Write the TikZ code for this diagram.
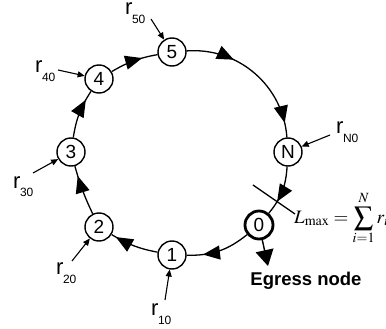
\documentclass[tikz,border=0pt]{standalone}
\usepackage{mathptmx}
\usepackage{fontspec}
\newfontfamily\arialfont{Liberation Sans}
\usetikzlibrary{arrows.meta,decorations.markings}
\newcommand\rlabel[1]{{\fontsize{22}{22}\selectfont r}\kern-0.5pt\raisebox{-9pt}{\fontsize{12}{12}\selectfont #1}}
\tikzset{
  ringnode/.style={circle,draw,line width=1.4pt,minimum size=28pt,inner sep=0pt,
    font=\arialfont\fontsize{19}{19}\selectfont},
  egressnode/.style={ringnode,line width=2.8pt},
  ringedge/.style={line width=1.3pt,postaction={decorate},
    decoration={markings,mark=at position #1 with {\arrow{Triangle[length=17pt,width=14pt]}}}},
  longedge/.style={line width=1.3pt,postaction={decorate},
    decoration={markings,
      mark=at position 0.33 with {\arrow{Triangle[length=17pt,width=14pt]}},
      mark=at position 0.9 with {\arrow{Triangle[length=17pt,width=14pt]}}}},
  rlab/.style={inner sep=0pt,anchor=base west,font=\arialfont},
  rarrow/.style={line width=1.1pt,-{Triangle[length=7pt,width=6pt]}},
  egressarrow/.style={line width=1.4pt,-{Triangle[length=16pt,width=18pt]}},
  cutline/.style={line width=1.3pt}
}
\begin{document}
\begin{tikzpicture}[x=1pt,y=-1pt]
\useasboundingbox (0,0) rectangle (386,329);
% ring nodes
\node[ringnode] (n5) at (172,52) {5};
\node[ringnode] (n4) at (99,79) {4};
\node[ringnode] (n3) at (71,152) {3};
\node[ringnode] (n2) at (99,227) {2};
\node[ringnode] (n1) at (172,255) {1};
\node[egressnode] (n0) at (259,225) {0};
\node[ringnode] (nN) at (288,152) {N};
% ring edges
\draw[longedge] (n5) to[bend left=45] (nN);
\draw[ringedge=0.72] (nN) to[bend left=18] (n0);
\draw[ringedge=0.75] (n0) to[bend left=20] (n1);
\draw[ringedge=0.9] (n1) to[bend left=10] (n2);
\draw[ringedge=0.8] (n2) to[bend left=5] (n3);
\draw[ringedge=0.8] (n3) to[bend left=12] (n4);
\draw[ringedge=0.68] (n4) to[bend left=10] (n5);
% input labels
\node[rlab] (l5) at (125,15) {\rlabel{50}};
\node[rlab] (l4) at (35,73) {\rlabel{40}};
\node[rlab] (l3) at (13,188) {\rlabel{30}};
\node[rlab] (l2) at (56,274) {\rlabel{20}};
\node[rlab] (l1) at (151,315) {\rlabel{10}};
\node[rlab] (lN) at (336,134) {\rlabel{N0}};
\coordinate (a5) at (151,19);
\coordinate (a4) at (58,70);
\coordinate (a3) at (33,173);
\coordinate (a2) at (72,261);
\coordinate (a1) at (165,300);
\coordinate (aN) at (330,135);
\draw[rarrow] (a5) -- (n5);
\draw[rarrow] (a4) -- (n4);
\draw[rarrow] (a3) -- (n3);
\draw[rarrow] (a2) -- (n2);
\draw[rarrow] (a1) -- (n1);
\draw[rarrow] (aN) -- (nN);
% egress
\coordinate (egr) at (268,266);
\draw[egressarrow] (n0) -- (egr);
\node[font=\arialfont\bfseries\fontsize{18.5}{18.5}\selectfont] (eg) at (306,281) {Egress node};
% cut and formula
\coordinate (c1) at (253,185);
\coordinate (c2) at (295,214);
\draw[cutline] (c1) -- (c2);
\node[inner sep=0pt,anchor=base west,font=\fontsize{19}{22}\selectfont] (lmax) at (294,223)
  {$\displaystyle L_{\max} = \sum_{i=1}^{N} r_{i0}$};
\end{tikzpicture}
\end{document}
